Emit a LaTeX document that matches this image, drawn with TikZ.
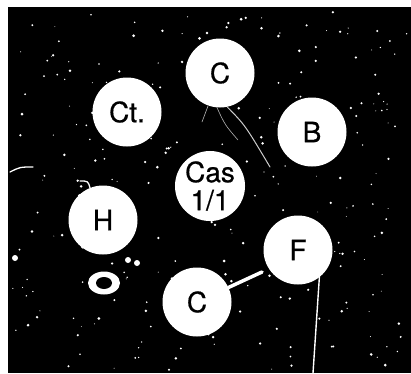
\documentclass[tikz,border=0pt]{standalone}
\usepackage{fontspec}
\setmainfont{TeX Gyre Heros}
\newfontfamily\discfont[FakeBold=0.6]{TeX Gyre Heros}
\usetikzlibrary{positioning, calc}
\tikzstyle{disc}=[circle, fill=white, text=black, minimum size=69pt, inner sep=0pt, align=center, font=\discfont\fontsize{28}{28}\selectfont]
\tikzstyle{scratch}=[draw=white, line cap=round]
\tikzstyle{speck}=[fill=white]

\begin{document}
\begin{tikzpicture}[x=1pt, y=-1pt]
\useasboundingbox (0,0) rectangle (411,373);
\fill[black] (8,7) rectangle (411,373);

% dust
\pgfmathsetseed{17}
\foreach \i in {1,...,260}{
  \pgfmathsetmacro{\px}{12+395*rnd}
  \pgfmathsetmacro{\py}{10+360*rnd}
  \pgfmathsetmacro{\pr}{0.4+1.1*rnd}
  \fill[speck] (\px,\py) circle (\pr pt);
}

\node[disc](ctop) at (220,73){C};
\node[disc](ct) at (127,112){Ct.};
\node[disc](b) at (312,132){B};
\node[disc](cas) at (210,186){Cas\\1/1};
\node[disc](h) at (103,220){H};
\node[disc](f) at (298,250){F};
\node[disc](cbot) at (197,302){C};

\coordinate (stub) at (262,272);
\coordinate (fend) at (313,373);
\coordinate (crack) at (270,167);
\coordinate (lscr) at (10,172);
\coordinate (hscr) at (80,181);

\draw[scratch, line width=3.5pt] (cbot) -- (stub);
\draw[scratch, line width=1.4pt] (f.-52) -- (fend);
\draw[scratch, line width=1pt, draw=white!80!black] (ctop.-78) .. controls (245,125) .. (crack);
\draw[scratch, line width=.6pt, draw=white!70!black] (ctop.-95) .. controls (225,125) .. (238,140);
\draw[scratch, line width=.6pt, draw=white!70!black] (ctop.-110) -- (202,122);
\draw[scratch, line width=1.3pt] (lscr) .. controls (20,167) .. (33,167);
\draw[scratch, line width=1.3pt] (hscr) .. controls (88,181) .. (h.112);

% ring and spots
\fill[white] (104,283) ellipse (16pt and 11.5pt);
\fill[black] (104,283) ellipse (8pt and 6pt);
\fill[white] (128,260) circle (3pt);
\fill[white] (137,263) circle (3pt);
\fill[white] (15,258) circle (3pt);

\end{tikzpicture}
\end{document}
